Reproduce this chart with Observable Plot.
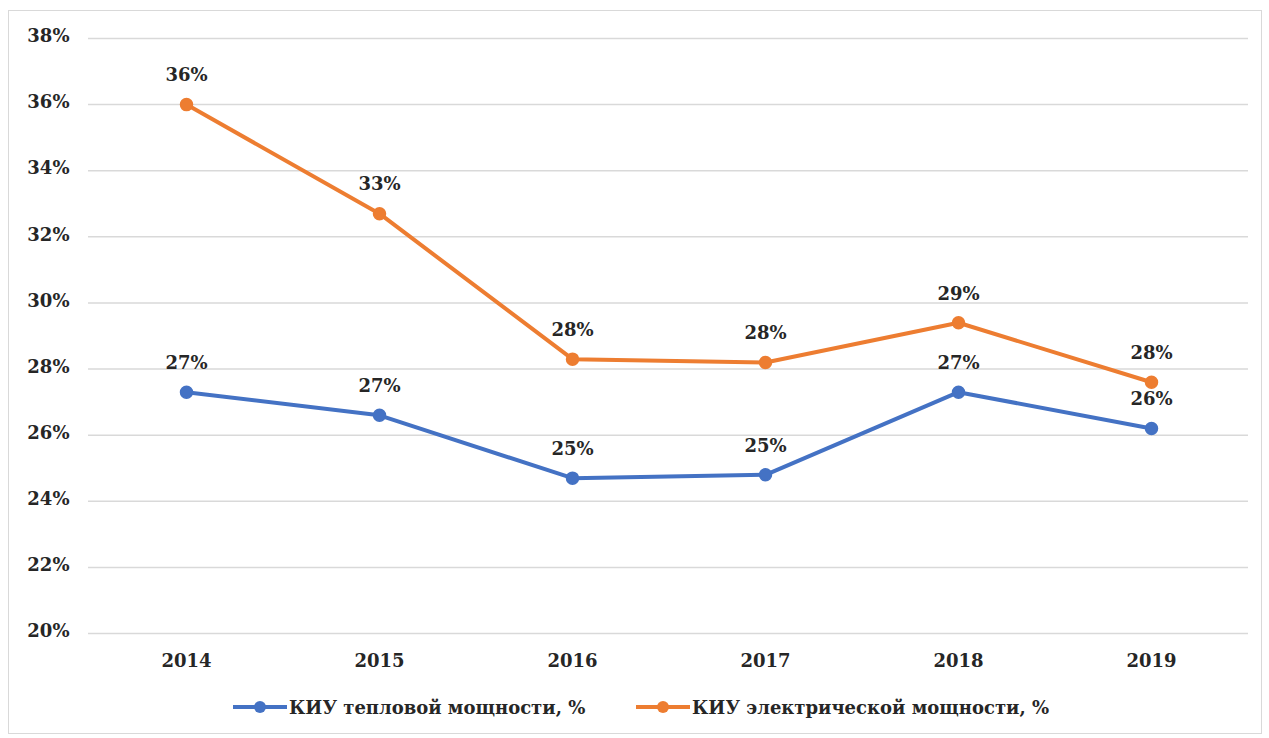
<!DOCTYPE html>
<html>
<head>
<meta charset="utf-8">
<script src="https://cdn.jsdelivr.net/npm/d3@7"></script>
<script src="https://cdn.jsdelivr.net/npm/@observablehq/plot@0.6"></script>
<style>
  html, body { margin: 0; padding: 0; background: #fff; }
  #frame { position: absolute; left: 8px; top: 10px; width: 1254px; height: 724px; border: 1px solid #d9d9d9; box-sizing: border-box; }
  #chart { position: absolute; left: 0; top: 0; }
  #chart svg, #chart text { font-family: "DejaVu Serif", "Liberation Serif", serif !important; }
  #legend { position: absolute; left: 0; top: 694px; width: 1269px; height: 26px; font-family: "DejaVu Serif", "Liberation Serif", serif; font-weight: bold; font-size: 18px; color: #262626; }
  .item { position: absolute; top: 0; display: flex; align-items: center; height: 26px; white-space: nowrap; }
  .sw { position: relative; width: 54px; height: 26px; margin-right: 2px; }
  .sw .ln { position: absolute; left: 0; right: 0; top: 11px; height: 4px; }
  .sw .dt { position: absolute; left: 21px; top: 7px; width: 12px; height: 12px; border-radius: 50%; }
</style>
</head>
<body>
<div id="frame"></div>
<div id="chart"></div>
<div id="legend"></div>
<script>
const years = ["2014", "2015", "2016", "2017", "2018", "2019"];
const heatValues = [27.3, 26.6, 24.7, 24.8, 27.3, 26.2];
const heatLabels = ["27%", "27%", "25%", "25%", "27%", "26%"];
const elecValues = [36.0, 32.7, 28.3, 28.2, 29.4, 27.6];
const elecLabels = ["36%", "33%", "28%", "28%", "29%", "28%"];
const yTicks = [20, 22, 24, 26, 28, 30, 32, 34, 36, 38];
const seriesNames = ["КИУ тепловой мощности, %", "КИУ электрической мощности, %"];
const seriesColors = ["#4472C4", "#ED7D31"];

const heat = years.map((y, i) => ({year: y, value: heatValues[i], label: heatLabels[i]}));
const elec = years.map((y, i) => ({year: y, value: elecValues[i], label: elecLabels[i]}));

const font = "DejaVu Serif, Liberation Serif, serif";

const chart = Plot.plot({
  width: 1269,
  height: 690,
  marginTop: 38,
  marginBottom: 57,
  marginLeft: 88,
  marginRight: 21,
  style: {fontFamily: font, fontSize: "18px", fontWeight: "bold", color: "#262626", background: "transparent"},
  x: {type: "point", domain: years, padding: 0.5, label: null},
  y: {domain: [20, 38], label: null},
  marks: [
    Plot.gridY(yTicks, {stroke: "#d9d9d9", strokeOpacity: 1, strokeWidth: 1.5}),
    Plot.axisY(yTicks, {tickSize: 0, tickPadding: 19, dy: -2, tickFormat: d => d + "%", fontSize: 18, fontWeight: "bold", fill: "#262626"}),
    Plot.axisX(years, {tickSize: 0, tickPadding: 21, fontSize: 18, fontWeight: "bold", fill: "#262626"}),
    Plot.line(heat, {x: "year", y: "value", stroke: seriesColors[0], strokeWidth: 4}),
    Plot.dot(heat, {x: "year", y: "value", r: 6, fill: seriesColors[0], stroke: seriesColors[0]}),
    Plot.line(elec, {x: "year", y: "value", stroke: seriesColors[1], strokeWidth: 4}),
    Plot.dot(elec, {x: "year", y: "value", r: 6, fill: seriesColors[1], stroke: seriesColors[1]}),
    Plot.text(heat, {x: "year", y: "value", text: "label", dy: -29, fontSize: 18, fontWeight: "bold", fill: "#262626"}),
    Plot.text(elec, {x: "year", y: "value", text: "label", dy: -29, fontSize: 18, fontWeight: "bold", fill: "#262626"})
  ]
});
document.getElementById("chart").appendChild(chart);

const legend = document.getElementById("legend");
const lefts = [233, 636];
seriesNames.forEach((name, i) => {
  const item = document.createElement("div");
  item.className = "item";
  item.style.left = lefts[i] + "px";
  item.innerHTML = `<div class="sw"><div class="ln" style="background:${seriesColors[i]}"></div><div class="dt" style="background:${seriesColors[i]}"></div></div><span>${name}</span>`;
  legend.appendChild(item);
});
</script>
</body>
</html>
